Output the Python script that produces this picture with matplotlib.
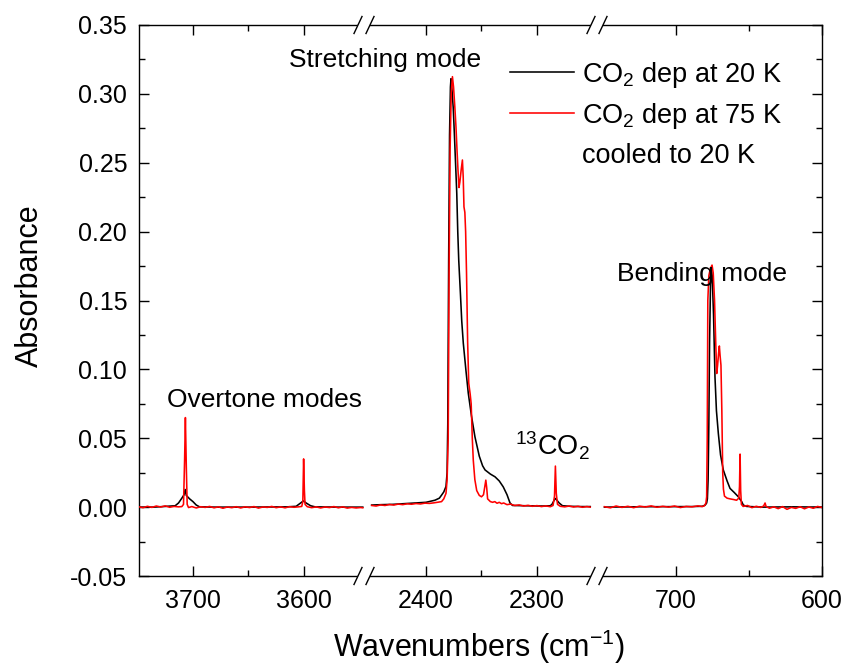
import matplotlib
matplotlib.use("Agg")
import matplotlib.pyplot as plt
from matplotlib.lines import Line2D
from matplotlib.patches import Rectangle
from matplotlib.ticker import FixedLocator, FormatStrFormatter, MultipleLocator

plt.rcParams['font.family'] = ['Liberation Sans', 'DejaVu Sans']
plt.rcParams['mathtext.fontset'] = 'custom'
plt.rcParams['mathtext.rm'] = 'Liberation Sans'
plt.rcParams['mathtext.it'] = 'Liberation Sans:italic'
plt.rcParams['axes.unicode_minus'] = False

# ---------------- data ----------------
# Segment 1: overtone region
ov_wn_red = [3749, 3745, 3741, 3737, 3733, 3729, 3725, 3721, 3717, 3713, 3710, 3708.5, 3707.5,
             3706.8, 3706.0, 3705.2, 3704, 3701, 3697, 3693, 3689, 3685, 3681, 3677, 3673, 3669,
             3665, 3661, 3657, 3653, 3649, 3645, 3641, 3637, 3633, 3629, 3625, 3621, 3617, 3613,
             3609, 3605, 3602, 3601, 3600.3, 3599.6, 3599, 3597, 3593, 3589, 3585, 3581, 3577,
             3573, 3569, 3565, 3561, 3557, 3553, 3549, 3547]
ov_abs_red = [0.0003, -0.0004, 0.0006, -0.0002, 0.0008, 0.0001, 0.0009, -0.0001, 0.0005, 0.0002,
              0.0004, 0.002, 0.035, 0.065, 0.030, 0.002, -0.0003, 0.0004, -0.0006, 0.0003,
              -0.0002, 0.0005, -0.0005, 0.0002, -0.0008, 0.0001, -0.0004, 0.0003, -0.0006, 0.0002,
              -0.0003, 0.0004, -0.0007, 0.0001, -0.0002, 0.0005, -0.0004, 0.0002, -0.0005, 0.0003,
              -0.0001, 0.0002, 0.0005, 0.004, 0.035, 0.012, 0.002, 0.0003, -0.0004, 0.0002,
              -0.0006, 0.0001, -0.0003, 0.0004, -0.0005, 0.0002, -0.0007, -0.0002, -0.0006,
              -0.0003, -0.0005]
ov_wn_blk = [3749, 3735, 3725, 3716, 3713, 3710, 3708, 3707, 3706, 3703, 3700, 3697, 3694, 3680,
             3650, 3615, 3607, 3603, 3600.5, 3598, 3594, 3590, 3570, 3547]
ov_abs_blk = [0.0, 0.0, 0.0005, 0.001, 0.003, 0.0065, 0.009, 0.0128, 0.0085, 0.006, 0.004, 0.0015,
              0.0002, 0.0, 0.0, 0.0002, 0.0006, 0.003, 0.0045, 0.003, 0.001, 0.0002, 0.0, 0.0]

# Segment 2: stretching region
st_wn_red = [2449, 2445, 2441, 2437, 2433, 2429, 2425, 2421, 2417, 2413, 2409, 2405, 2401, 2397,
             2393, 2389, 2386, 2384, 2382, 2381, 2380, 2379.2, 2378.3, 2377.3, 2376.2, 2375.2,
             2374, 2373, 2372, 2371.2, 2370.3, 2369.5, 2368.3, 2367.2, 2366.5, 2365.8, 2365,
             2364.3, 2363.5, 2362.5, 2361.5, 2360.2, 2359.3, 2358.3, 2357.4, 2356, 2354.3, 2352,
             2350, 2348.2, 2347, 2346.1, 2345.3, 2344.5, 2342, 2340, 2338, 2336, 2334, 2332, 2330,
             2327, 2324, 2320, 2316, 2312, 2308, 2304, 2300, 2296, 2292, 2288, 2285.5, 2284.2,
             2283.4, 2282.6, 2281.5, 2279, 2275, 2271, 2267, 2263, 2259, 2255, 2252]
st_abs_red = [0.0012, 0.0008, 0.0016, 0.0012, 0.0019, 0.0015, 0.0022, 0.0018, 0.0024, 0.0021,
              0.0026, 0.0023, 0.0029, 0.0027, 0.0031, 0.0036, 0.004, 0.006, 0.010, 0.02, 0.05,
              0.17, 0.26, 0.30, 0.3125, 0.305, 0.29, 0.276, 0.258, 0.245, 0.232, 0.236, 0.245,
              0.252, 0.24, 0.218, 0.214, 0.2, 0.17, 0.12, 0.09, 0.082, 0.075, 0.05, 0.034, 0.02,
              0.012, 0.0085, 0.0075, 0.009, 0.015, 0.0196, 0.014, 0.006, 0.004, 0.0035, 0.004,
              0.0028, 0.0035, 0.0025, 0.003, 0.0018, 0.0022, 0.0012, 0.0016, 0.0008, 0.0013,
              0.0006, 0.0011, 0.0004, 0.0009, 0.0003, 0.0012, 0.008, 0.0298, 0.010, 0.002, 0.0006,
              0.0002, 0.0008, 0.0001, 0.0006, -0.0001, 0.0004, 0.0]
st_wn_blk = [2449, 2440, 2430, 2420, 2410, 2400, 2392, 2388, 2386, 2384, 2382, 2381, 2380.4,
             2379.6, 2378.8, 2378, 2377.5, 2376.5, 2375.5, 2374.5, 2373.4, 2372.3, 2371.4,
             2370.5, 2369, 2367.8, 2366.4, 2364, 2361.9, 2359, 2355.9, 2352, 2349, 2346.8, 2342,
             2337.8, 2334, 2330.4, 2327, 2324.3, 2322, 2310, 2295, 2288, 2286.5, 2284.5, 2283.4,
             2282, 2280, 2277, 2270, 2260, 2252]
st_abs_blk = [0.0015, 0.0018, 0.002, 0.0025, 0.003, 0.0035, 0.005, 0.0065, 0.0087, 0.011, 0.015,
              0.025, 0.06, 0.179, 0.27, 0.305, 0.311, 0.302, 0.29, 0.272, 0.25, 0.228, 0.2, 0.179,
              0.155, 0.135, 0.119, 0.099, 0.0826, 0.066, 0.051, 0.037, 0.03, 0.027, 0.024, 0.022,
              0.019, 0.0147, 0.009, 0.003, 0.0012, 0.001, 0.0008, 0.001, 0.002, 0.005, 0.0063,
              0.005, 0.003, 0.001, 0.0006, 0.0004, 0.0004]

# Segment 3: bending region
bd_wn_red = [749, 745, 741, 737, 733, 729, 725, 721, 717, 713, 709, 705, 701, 697, 693, 689, 685,
             682, 680.5, 679.5, 679, 678.6, 678.2, 677.5, 676.5, 675.3, 674.5, 673.6, 672.8,
             672.1, 671.5, 670.8, 670.3, 669.8, 669.2, 668.6, 668, 667.5, 666.8, 665, 663, 660.5,
             658.5, 657, 656.5, 656.1, 655.7, 655.2, 654, 651, 648, 645, 642, 640, 639, 638.3,
             636, 633, 630, 627, 624, 621, 618, 615, 612, 609, 606, 603, 600]
bd_abs_red = [0.0003, -0.0005, 0.0008, -0.0002, 0.0006, -0.0004, 0.0007, 0.0001, 0.0009, -0.0001,
              0.0006, 0.0, 0.0008, -0.0003, 0.0005, 0.0002, 0.0009, 0.0004, 0.001, 0.003, 0.0075,
              0.05, 0.15, 0.168, 0.173, 0.1757, 0.17, 0.15, 0.12, 0.097, 0.103, 0.112, 0.117,
              0.11, 0.103, 0.07, 0.025, 0.013, 0.008, 0.0065, 0.006, 0.0055, 0.005, 0.0065, 0.015,
              0.0385, 0.012, 0.002, 0.0005, 0.0012, -0.0004, 0.0006, -0.0002, 0.0008, 0.003,
              0.0005, -0.0008, 0.0002, -0.0011, 0.0004, -0.0016, -0.0002, -0.0009, 0.0003,
              -0.0012, 0.0001, -0.0008, 0.0005, -0.0003]
bd_wn_blk = [749, 720, 690, 682, 680, 679, 678.5, 678, 677.5, 677, 676.3, 675.8, 675.2, 674.3,
             673.3, 672.3, 671, 669.5, 667.6, 665, 663, 660, 657.3, 655, 653.9, 651.6, 640, 620,
             600]
bd_abs_blk = [0.0, 0.0003, 0.0004, 0.0006, 0.0015, 0.003, 0.006, 0.02, 0.06, 0.12, 0.165, 0.173,
              0.168, 0.14, 0.0946, 0.07, 0.0535, 0.038, 0.027, 0.019, 0.0136, 0.0105, 0.0075,
              0.004, 0.0015, 0.0005, 0.0, 0.0002, 0.0]

segments = [
    dict(lim=(3748.6, 3545.9), major=[3700, 3600], minor=[3650],
         red=(ov_wn_red, ov_abs_red), blk=(ov_wn_blk, ov_abs_blk)),
    dict(lim=(2455.9, 2245.9), major=[2400, 2300], minor=[2350],
         red=(st_wn_red, st_abs_red), blk=(st_wn_blk, st_abs_blk)),
    dict(lim=(754.1, 600.0), major=[700, 600], minor=[650],
         red=(bd_wn_red, bd_abs_red), blk=(bd_wn_blk, bd_abs_blk)),
]

legend_labels = ["CO$_2$ dep at 20 K", "CO$_2$ dep at 75 K", "cooled to 20 K"]

# ---------------- figure ----------------
W, H = 845, 665
fig = plt.figure(figsize=(W / 100, H / 100), dpi=100)

def fx(px):
    return px / W

def fy(py):
    return 1 - py / H

ax_left_px = [139, 364, 597]
ax_right_px = [364, 597, 822]
top_px, bot_px = 25, 576
LW = 1.15

axes = []
for i, seg in enumerate(segments):
    ax = fig.add_axes([fx(ax_left_px[i]), fy(bot_px),
                       fx(ax_right_px[i]) - fx(ax_left_px[i]), fy(top_px) - fy(bot_px)])
    ax.plot(seg['blk'][0], seg['blk'][1], color='black', lw=LW, zorder=2)
    ax.plot(seg['red'][0], seg['red'][1], color='#ff0000', lw=LW, zorder=3)
    ax.set_xlim(*seg['lim'])
    ax.set_ylim(-0.05, 0.35)
    ax.xaxis.set_major_locator(FixedLocator(seg['major']))
    ax.xaxis.set_minor_locator(FixedLocator(seg['minor']))
    ax.yaxis.set_major_locator(MultipleLocator(0.05))
    ax.yaxis.set_minor_locator(MultipleLocator(0.025))
    ax.yaxis.set_major_formatter(FormatStrFormatter('%.2f'))
    for s in ax.spines.values():
        s.set_linewidth(1.0)
    ax.tick_params(which='both', direction='in', top=True, bottom=True, width=1.0,
                   labelsize=18)
    ax.tick_params(which='major', length=7.2)
    ax.tick_params(which='minor', length=4.0)
    ax.tick_params(axis='x', pad=9)
    ax.tick_params(axis='y', pad=8.5)
    if i > 0:
        ax.spines['left'].set_visible(False)
        ax.tick_params(axis='y', which='both', left=False, labelleft=False)
    if i < 2:
        ax.spines['right'].set_visible(False)
        ax.tick_params(axis='y', which='both', right=False)
    else:
        ax.tick_params(axis='y', which='both', right=True, labelright=False)
    ax.patch.set_alpha(0)
    axes.append(ax)

# axis break marks
for xb in [364, 597]:
    for yb in [bot_px, top_px]:
        fig.add_artist(Rectangle((fx(xb - 6), fy(yb + 2)), fx(12), 4 / H,
                                 transform=fig.transFigure, facecolor='white',
                                 edgecolor='none', zorder=5))
        for dx in (-6, 6):
            fig.add_artist(Line2D([fx(xb + dx - 4), fx(xb + dx + 4)],
                                  [fy(yb + 8.5), fy(yb - 8.5)],
                                  transform=fig.transFigure, color='black', lw=1.0,
                                  zorder=6))

# axis labels
fig.text(fx(30), fy(286), "Absorbance", rotation=90, ha='center', va='center', fontsize=22)
fig.text(fx(479), fy(647), "Wavenumbers (cm$^{-1}$)", ha='center', va='center', fontsize=22)

# annotations
fig.text(fx(289), fy(67), "Stretching mode", ha='left', va='baseline', fontsize=19)
fig.text(fx(167), fy(407), "Overtone modes", ha='left', va='baseline', fontsize=19)
fig.text(fx(617), fy(281), "Bending mode", ha='left', va='baseline', fontsize=19)
fig.text(fx(515), fy(456), "$^{13}$CO$_2$", ha='left', va='baseline', fontsize=19.5)

# legend (drawn manually)
fig.add_artist(Line2D([fx(510), fx(574)], [fy(72), fy(72)], transform=fig.transFigure,
                      color='black', lw=LW))
fig.add_artist(Line2D([fx(510), fx(574)], [fy(113), fy(113)], transform=fig.transFigure,
                      color='#ff0000', lw=LW))
fig.text(fx(582), fy(82), legend_labels[0], ha='left', va='baseline', fontsize=19.5)
fig.text(fx(582), fy(123), legend_labels[1], ha='left', va='baseline', fontsize=19.5)
fig.text(fx(582), fy(163), legend_labels[2], ha='left', va='baseline', fontsize=19.5)

fig.savefig("out.png", dpi=100)
